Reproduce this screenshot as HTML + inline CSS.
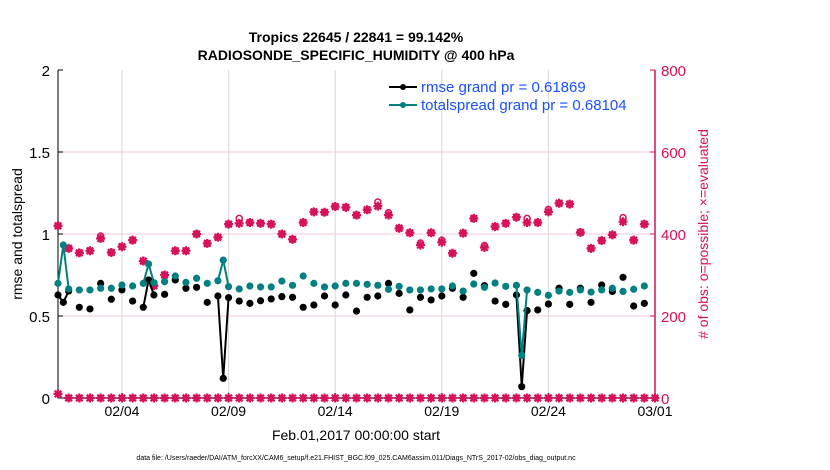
<!DOCTYPE html>
<html><head><meta charset="utf-8"><style>
body{margin:0;background:#fff;font-family:"Liberation Sans",sans-serif}
svg{display:block}
</style></head><body>
<svg id="chart" width="830" height="470" xmlns="http://www.w3.org/2000/svg" font-family="Liberation Sans, sans-serif">
<text x="356" y="42" text-anchor="middle" font-size="14" font-weight="bold">Tropics 22645 / 22841 = 99.142%</text>
<text x="356" y="60" text-anchor="middle" font-size="14" font-weight="bold">RADIOSONDE_SPECIFIC_HUMIDITY @ 400 hPa</text>
<text x="356" y="440" text-anchor="middle" font-size="14">Feb.01,2017 00:00:00 start</text>
<text x="356" y="460" text-anchor="middle" font-size="7">data file: /Users/raeder/DAI/ATM_forcXX/CAM6_setup/f.e21.FHIST_BGC.f09_025.CAM6assim.011/Diags_NTrS_2017-02/obs_diag_output.nc</text>
<text transform="translate(22,234) rotate(-90)" text-anchor="middle" font-size="14">rmse and totalspread</text>
<text transform="translate(708,234) rotate(-90)" text-anchor="middle" font-size="14" fill="#d6125a"># of obs: o=possible; ×=evaluated</text>
<g id="grid"></g><g id="axes"></g><g id="marks"></g><g id="legend"></g>
</svg>
<script>
const times=[0,0.25,0.5,1,1.5,2,2.5,3,3.5,4,4.25,4.5,5,5.5,6,6.5,7,7.5,7.75,8,8.5,9,9.5,10,10.5,11,11.5,12,12.5,13,13.5,14,14.5,15,15.5,16,16.5,17,17.5,18,18.5,19,19.5,20,20.5,21,21.5,21.75,22,22.5,23,23.5,24,24.5,25,25.5,26,26.5,27,27.5];
const rmse=[0.628,0.583,0.652,0.553,0.543,0.699,0.602,0.659,0.591,0.553,0.720,0.628,0.632,0.72,0.669,0.675,0.583,0.622,0.120,0.612,0.591,0.577,0.593,0.604,0.618,0.614,0.553,0.567,0.622,0.567,0.628,0.530,0.614,0.622,0.699,0.638,0.537,0.614,0.598,0.622,0.669,0.614,0.760,0.685,0.591,0.571,0.628,0.069,0.533,0.537,0.573,0.669,0.571,0.669,0.583,0.689,0.650,0.736,0.561,0.577];
const spread=[0.699,0.933,0.665,0.659,0.659,0.669,0.669,0.689,0.683,0.699,0.817,0.703,0.709,0.744,0.705,0.730,0.699,0.715,0.841,0.679,0.665,0.683,0.677,0.677,0.713,0.687,0.744,0.699,0.677,0.683,0.699,0.699,0.693,0.687,0.663,0.681,0.659,0.659,0.665,0.665,0.683,0.652,0.695,0.675,0.701,0.681,0.687,0.260,0.659,0.644,0.626,0.652,0.644,0.659,0.646,0.659,0.669,0.650,0.663,0.683];
const obsTimes=[0,0.5,1,1.5,2,2.5,3,3.5,4,4.5,5,5.5,6,6.5,7,7.5,8,8.5,9,9.5,10,10.5,11,11.5,12,12.5,13,13.5,14,14.5,15,15.5,16,16.5,17,17.5,18,18.5,19,19.5,20,20.5,21,21.5,22,22.5,23,23.5,24,24.5,25,25.5,26,26.5,27,27.5];
const obsEval=[420,365,354,359,389,355,369,385,334,274,300,359,359,400,377,392,424,426,428,426,424,400,387,428,454,453,467,465,446,459,468,446,414,403,373,403,380,353,402,438,367,418,426,441,428,428,454,475,473,404,365,384,398,430,385,424];
const obsPoss=[420,365,354,359,395,355,369,385,334,274,300,359,359,400,377,392,424,438,428,426,424,400,387,428,454,453,467,465,446,459,478,452,414,403,378,403,385,353,402,438,372,418,426,441,438,428,460,475,473,404,365,384,398,440,385,424];
const zeroTimes=[0,0.5,1,1.5,2,2.5,3,3.5,4,4.5,5,5.5,6,6.5,7,7.5,8,8.5,9,9.5,10,10.5,11,11.5,12,12.5,13,13.5,14,14.5,15,15.5,16,16.5,17,17.5,18,18.5,19,19.5,20,20.5,21,21.5,22,22.5,23,23.5,24,24.5,25,25.5,26,26.5,27,27.5,28];
const zeroVals=[10,0,0,0,0,0,0,0,0,0,0,0,0,0,0,0,0,0,0,0,0,0,0,0,0,0,0,0,0,0,0,0,0,0,0,0,0,0,0,0,0,0,0,0,0,0,0,0,0,0,0,0,0,0,0,0,0];
const xTickDays=[3,8,13,18,23,28];
const xTickLabels=["02/04","02/09","02/14","02/19","02/24","03/01"];
const yTicks=[0,0.5,1,1.5,2];
const yTickLabels=["0","0.5","1","1.5","2"];
const y2Ticks=[0,200,400,600,800];

const L=58,R=655,T=70,B=398;
const X=d=>L+d*(R-L)/28;
const Y=v=>B-v*(B-T)/2;
const Y2=v=>B-v*(B-T)/800;
const NS="http://www.w3.org/2000/svg";
function mk(parent,tag,attrs){const e=document.createElementNS(NS,tag);for(const k in attrs)e.setAttribute(k,attrs[k]);document.getElementById(parent).appendChild(e);return e;}

// grid
xTickDays.forEach((d,i)=>{
 const g=mk('grid','line',{x1:X(d),x2:X(d),y1:T,y2:B,stroke:'#d8d8d8','stroke-width':1});
 
 
 const t=mk('axes','line',{x1:X(d),x2:X(d),y1:B,y2:B-5,stroke:'#000'});
 
 
 const lb=mk('axes','text',{x:X(d),y:B+18,'text-anchor':'middle','font-size':14});
 lb.textContent=xTickLabels[i];
 
 
});
y2Ticks.forEach(v=>{
 if(v>0&&v<800){const g=mk('grid','line',{x1:L,x2:R,y1:Y2(v),y2:Y2(v),stroke:'#f6c8d8','stroke-width':1});
 
 }
 const t=mk('axes','line',{x1:R,x2:R-5,y1:Y2(v),y2:Y2(v),stroke:'#d6125a'});
 
 
 const lb=mk('axes','text',{x:R+6,y:Y2(v)+6,'font-size':15,fill:'#d6125a'});
 lb.textContent=String(v);
 
 
});
yTicks.forEach((v,i)=>{
 const t=mk('axes','line',{x1:L,x2:L+5,y1:Y(v),y2:Y(v),stroke:'#000'});
 
 
 const lb=mk('axes','text',{x:L-8,y:Y(v)+6,'text-anchor':'end','font-size':15});
 lb.textContent=yTickLabels[i];
 
 
});
const ax1=mk('axes','line',{x1:L,x2:L,y1:T,y2:B,stroke:'#000'});


const ax2=mk('axes','line',{x1:L,x2:R,y1:B,y2:B,stroke:'#000'});


const ax3=mk('axes','line',{x1:R,x2:R,y1:T,y2:B,stroke:'#d6125a','stroke-width':1.5});



function star(x,y,name){
 const g=mk('marks','path',{d:`M${x-4.5},${y}L${x+4.5},${y}M${x},${y-4.5}L${x},${y+4.5}M${x-3.3},${y-3.3}L${x+3.3},${y+3.3}M${x-3.3},${y+3.3}L${x+3.3},${y-3.3}`,stroke:'#d6125a','stroke-width':2.2});
 
 
 const c=mk('marks','circle',{cx:x,cy:y,r:3.2,fill:'#d6125a'});
 
 
}
obsTimes.forEach((t,i)=>{
 const c=mk('marks','circle',{cx:X(t),cy:Y2(obsPoss[i]),r:3,fill:'none',stroke:'#d6125a','stroke-width':1.5});
 
 
 star(X(t),Y2(obsEval[i]),'obs-evaluated-marker');
});
zeroTimes.forEach((t,i)=>star(X(t),Y2(zeroVals[i]),'obs-zero-marker'));

function series(vals,color,name){
 for(let i=1;i<times.length;i++){
  if(times[i]-times[i-1]<=0.3){
   const l=mk('marks','line',{x1:X(times[i-1]),y1:Y(vals[i-1]),x2:X(times[i]),y2:Y(vals[i]),stroke:color,'stroke-width':2});
   
   
  }
 }
 times.forEach((t,i)=>{
  const c=mk('marks','circle',{cx:X(t),cy:Y(vals[i]),r:3.6,fill:color});
  
  
 });
}
series(rmse,'#000','rmse');
series(spread,'#008080','totalspread');

// legend
[['#000','rmse grand pr = 0.61869',92],['#008080','totalspread grand pr = 0.68104',110]].forEach((e,i)=>{
 const l=mk('legend','line',{x1:389,x2:417,y1:e[2]-5,y2:e[2]-5,stroke:e[0],'stroke-width':2});
 
 
 const c=mk('legend','circle',{cx:403,cy:e[2]-5,r:3,fill:e[0]});
 
 
 const t=mk('legend','text',{x:421,y:e[2],'font-size':15,fill:'#1a4fff'});
 t.textContent=e[1];
 
 
});
</script>
</body></html>
